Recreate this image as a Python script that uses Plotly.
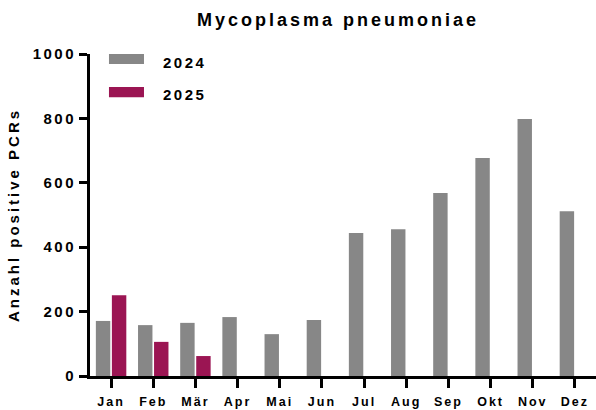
import plotly.graph_objects as go

months = ["Jan", "Feb", "Mär", "Apr", "Mai", "Jun", "Jul", "Aug", "Sep", "Okt", "Nov", "Dez"]
values_2024 = [171, 158, 165, 183, 130, 174, 444, 456, 568, 677, 798, 512]
values_2025 = [251, 106, 62, None, None, None, None, None, None, None, None, None]
series_names = ["2024", "2025"]
y_ticks = [0, 200, 400, 600, 800, 1000]

GRAY = "#878787"
MAGENTA = "#9B1553"
FONT = "Liberation Sans, Arial, sans-serif"

fig = go.Figure()
fig.add_trace(go.Bar(x=months, y=values_2024, name=series_names[0], marker=dict(color=GRAY, line=dict(width=0))))
fig.add_trace(go.Bar(x=months, y=values_2025, name=series_names[1], marker=dict(color=MAGENTA, line=dict(width=0))))

fig.update_layout(
    width=596, height=410,
    margin=dict(l=90, r=0, t=54, b=34, autoexpand=False),
    paper_bgcolor="white", plot_bgcolor="white",
    barmode="group", bargap=0.24, bargroupgap=0.1,
    showlegend=False,
    font=dict(family=FONT, color="black", weight="bold"),
    title=dict(text="Mycoplasma pneumoniae", x=0.567, xanchor="center", y=0.951, yanchor="middle",
               font=dict(family=FONT, size=18, color="black", weight="bold")),
)
fig.update_xaxes(
    range=[-0.5, 11.5], showline=True, linewidth=3, linecolor="black",
    ticks="outside", ticklen=9, tickwidth=3, tickcolor="black",
    tickfont=dict(family=FONT, size=12.5, color="black", weight="bold"),
    ticklabelstandoff=3,
    showgrid=False, zeroline=False, automargin=False,
)
fig.update_yaxes(
    range=[0, 1000], tickvals=y_ticks, showline=True, linewidth=3, linecolor="black",
    ticks="outside", ticklen=8, tickwidth=3, tickcolor="black",
    tickfont=dict(family=FONT, size=15, color="black", weight="bold"),
    showgrid=False, zeroline=False, automargin=False,
    title=dict(text="Anzahl positive PCRs", standoff=20,
               font=dict(family=FONT, size=15, color="black", weight="bold")),
)

# legend patches and labels
legend_items = [(series_names[0], GRAY, 0.969, 1.0, 0.975), (series_names[1], MAGENTA, 0.866, 0.8975, 0.873)]
for name, col, y0, y1, yt in legend_items:
    fig.add_shape(type="rect", xref="paper", yref="paper", x0=0.0375, x1=0.1067, y0=y0, y1=y1,
                  fillcolor=col, line=dict(width=0))
    fig.add_annotation(text=name, xref="paper", yref="paper", x=0.15, y=yt, xanchor="left", yanchor="middle",
                       showarrow=False, font=dict(family=FONT, size=15, color="black", weight="bold"))

post = """
document.body.style.margin = '0';
var gd = document.getElementById('{plot_id}');
function sp(sel, v){ gd.querySelectorAll(sel).forEach(function(t){ t.style.letterSpacing = v; }); }
sp('.gtitle', '3px'); sp('.xtick text', '2px'); sp('.ytick text', '2.5px');
sp('.ytitle', '3px'); sp('.annotation-text', '2.5px');
"""

fig.write_html("out.html", post_script=post, config={"displayModeBar": False})
